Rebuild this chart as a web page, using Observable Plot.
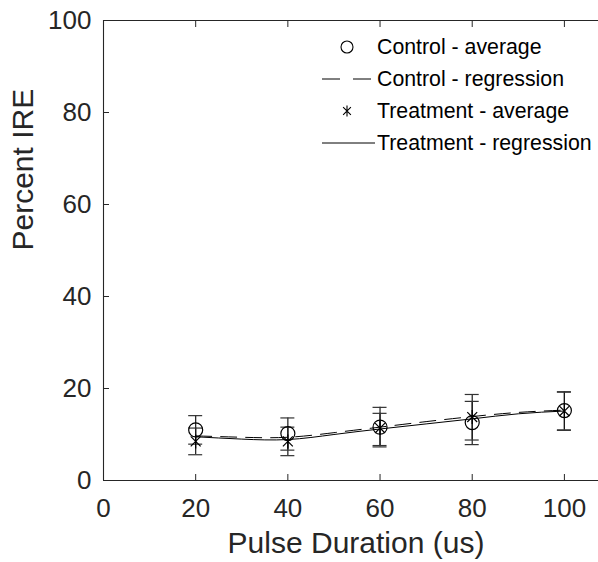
<!DOCTYPE html>
<html>
<head>
<meta charset="utf-8">
<script src="https://cdn.jsdelivr.net/npm/d3@7"></script>
<script src="https://cdn.jsdelivr.net/npm/@observablehq/plot@0.6"></script>
<style>
  html, body { margin: 0; padding: 0; background: #fff; }
  #chart { width: 598px; height: 562px; overflow: hidden; }
</style>
</head>
<body>
<div id="chart"></div>
<script>
// ---- data ----
const durations = [20, 40, 60, 80, 100];
const controlMean = [11.0, 10.2, 11.6, 12.6, 15.2];
const controlLow  = [7.9, 6.6, 7.3, 7.8, 10.9];
const controlHigh = [14.1, 13.6, 15.9, 17.2, 19.3];
const treatMean = [8.5, 8.5, 11.4, 13.8, 15.1];
const treatLow  = [5.6, 5.4, 7.6, 8.8, 11.0];
const treatHigh = [11.4, 11.6, 14.6, 18.7, 19.2];

const regX = [20, 30, 40, 50, 60, 70, 80, 90, 100];
const controlReg = [9.7, 9.4, 9.4, 10.4, 11.6, 12.8, 13.9, 14.8, 15.3];
const treatReg   = [9.5, 9.0, 8.9, 10.0, 11.2, 12.3, 13.4, 14.5, 15.1];

const xTicks = [0, 20, 40, 60, 80, 100];
const yTicks = [0, 20, 40, 60, 80, 100];
const xLabel = "Pulse Duration (us)";
const yLabel = "Percent IRE";
const legendLabels = ["Control - average", "Control - regression", "Treatment - average", "Treatment - regression"];

// ---- tables ----
const avg = durations.map((d, i) => ({x: d, c: controlMean[i], cl: controlLow[i], ch: controlHigh[i],
                                        t: treatMean[i], tl: treatLow[i], th: treatHigh[i]}));
const cReg = regX.map((d, i) => ({x: d, y: controlReg[i]}));
const tReg = regX.map((d, i) => ({x: d, y: treatReg[i]}));

const ink = "#262626";
const font = "'Liberation Sans', Arial, Helvetica, sans-serif";

const asterisk = {
  draw(context, size) {
    const r = Math.sqrt(size / Math.PI);
    const d = r * Math.SQRT1_2;
    context.moveTo(0, -r); context.lineTo(0, r);
    context.moveTo(-d, -d); context.lineTo(d, d);
    context.moveTo(-d, d); context.lineTo(d, -d);
  }
};

const chart = Plot.plot({
  width: 598,
  height: 562,
  marginLeft: 103,
  marginRight: 0,
  marginTop: 20,
  marginBottom: 82,
  style: {fontFamily: font, color: ink, background: "#fff", overflow: "hidden"},
  x: {domain: [0, 107.4]},
  y: {domain: [0, 100]},
  marks: [
    // frame
    Plot.ruleY([0, 100], {stroke: ink, strokeWidth: 1.1}),
    Plot.ruleX([0], {stroke: ink, strokeWidth: 1.1}),
    // inward ticks
    Plot.axisX(xTicks, {anchor: "bottom", tickSize: -6, tickFormat: () => "", label: null, stroke: ink}),
    Plot.axisX(xTicks.filter(d => d > 0), {anchor: "top", tickSize: -6, tickFormat: () => "", label: null, stroke: ink}),
    Plot.axisY(yTicks, {anchor: "left", tickSize: -6, tickFormat: () => "", label: null, stroke: ink}),
    // tick labels
    Plot.axisX(xTicks, {anchor: "bottom", tickSize: 0, tickPadding: 18.5, fontSize: 26, label: null, fill: ink}),
    Plot.axisY(yTicks, {anchor: "left", tickSize: 0, tickPadding: 12, fontSize: 26, label: null, fill: ink}),
    // axis titles
    Plot.text([xLabel], {frameAnchor: "bottom", dx: 5, dy: 72, fontSize: 30, fill: ink, text: d => d}),
    Plot.text([yLabel], {frameAnchor: "left", dx: -80.5, rotate: -90, fontSize: 30, fill: ink, text: d => d}),
    // regression curves
    Plot.line(cReg, {x: "x", y: "y", curve: "natural", stroke: "#000", strokeWidth: 1, strokeDasharray: "16,9"}),
    Plot.line(tReg, {x: "x", y: "y", curve: "natural", stroke: "#000", strokeWidth: 1}),
    // error bars
    Plot.ruleX(avg, {x: "x", y1: "cl", y2: "ch", stroke: "#1a1a1a", strokeWidth: 1.2}),
    Plot.ruleX(avg, {x: "x", y1: "tl", y2: "th", stroke: "#1a1a1a", strokeWidth: 1.2}),
    Plot.ruleY(avg, {y: "cl", x1: "x", x2: "x", insetLeft: -7, insetRight: -7, stroke: "#333", strokeWidth: 1.2}),
    Plot.ruleY(avg, {y: "ch", x1: "x", x2: "x", insetLeft: -7, insetRight: -7, stroke: "#333", strokeWidth: 1.2}),
    Plot.ruleY(avg, {y: "tl", x1: "x", x2: "x", insetLeft: -7, insetRight: -7, stroke: "#333", strokeWidth: 1.2}),
    Plot.ruleY(avg, {y: "th", x1: "x", x2: "x", insetLeft: -7, insetRight: -7, stroke: "#333", strokeWidth: 1.2}),
    // markers
    Plot.dot(avg, {x: "x", y: "c", r: 7, symbol: "circle", stroke: "#000", strokeWidth: 1.2, fill: "none"}),
    Plot.dot(avg, {x: "x", y: "t", r: 7, symbol: asterisk, stroke: "#000", strokeWidth: 1.2, fill: "none"})
  ]
});

document.getElementById("chart").appendChild(chart);

// ---- legend (inside the axes, top right) ----
const svg = d3.select(chart);
const lg = svg.append("g").attr("font-family", font).attr("font-size", 21.3)
  .attr("fill", "#000").attr("text-anchor", "start");
const rowY = [47, 79, 111, 143];
const symX = 347, lineX1 = 322, lineX2 = 375, textX = 377;
legendLabels.forEach((lab, i) => {
  lg.append("text").attr("x", textX).attr("y", rowY[i]).attr("dy", "0.35em")
    .attr("text-anchor", "start").attr("fill", "#000").text(lab);
});
// symbols
lg.append("circle").attr("cx", symX).attr("cy", rowY[0]).attr("r", 6)
  .attr("fill", "none").attr("stroke", "#000").attr("stroke-width", 1.1);
lg.append("line").attr("x1", lineX1).attr("x2", lineX2).attr("y1", rowY[1]).attr("y2", rowY[1])
  .attr("stroke", "#000").attr("stroke-width", 1).attr("stroke-dasharray", "18,13");
const sp = d3.path();
asterisk.draw(sp, Math.PI * 5.5 * 5.5);
lg.append("path").attr("d", sp.toString()).attr("transform", `translate(${symX},${rowY[2]})`)
  .attr("fill", "none").attr("stroke", "#000").attr("stroke-width", 1.1);
lg.append("line").attr("x1", lineX1).attr("x2", lineX2).attr("y1", rowY[3]).attr("y2", rowY[3])
  .attr("stroke", "#000").attr("stroke-width", 1);
</script>
</body>
</html>
